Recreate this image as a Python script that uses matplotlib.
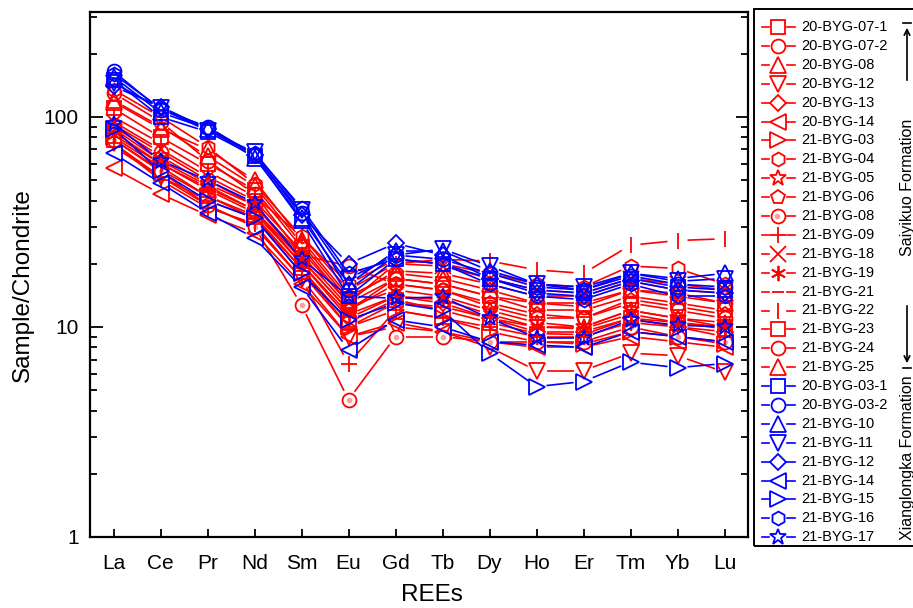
"""
Diagrama REE normalizado a condrita: Saiyikuo (rojo) vs Xianglongka (azul).
Salida: out.png (913x608)
"""

import numpy as np

import matplotlib
matplotlib.use("Agg")
import matplotlib.pyplot as plt
from matplotlib.lines import Line2D
from matplotlib.patches import Rectangle, FancyArrowPatch

plt.rcParams["font.family"] = ["Liberation Sans", "DejaVu Sans"]

REES = ["La", "Ce", "Pr", "Nd", "Sm", "Eu", "Gd", "Tb", "Dy", "Ho", "Er", "Tm", "Yb", "Lu"]

# Saiyikuo Formation
NOMBRES_SAI = ["20-BYG-07-1", "20-BYG-07-2", "20-BYG-08", "20-BYG-12", "20-BYG-13",
               "20-BYG-14", "21-BYG-03", "21-BYG-04", "21-BYG-05", "21-BYG-06",
               "21-BYG-08", "21-BYG-09", "21-BYG-18", "21-BYG-19", "21-BYG-21",
               "21-BYG-22", "21-BYG-23", "21-BYG-24", "21-BYG-25"]
SAI = [
    [110, 80, 60, 45, 24, 13, 17, 16, 14, 12, 12, 14, 13, 12],
    [130, 95, 62, 43, 22, 19.5, 16, 15, 12.5, 11, 11, 13, 12, 11],
    [118, 88, 70, 50, 26, 14, 18, 17, 15, 13, 13, 15, 14, 13],
    [75, 52, 38, 30, 17, 9, 10, 9.5, 8, 6.2, 6.2, 7.5, 7.3, 6.1],
    [85, 60, 45, 35, 20, 11, 14, 13, 11, 9.5, 9.5, 11, 10, 9.5],
    [57, 43, 34, 28, 16, 9, 10.5, 9.5, 8.5, 8, 8, 9, 8.5, 8],
    [80, 58, 42, 33, 18, 10, 12, 11, 9.5, 8.5, 8.3, 9.5, 9, 8.3],
    [135, 100, 72, 48, 27, 16, 21, 20, 18, 16, 15.5, 19.5, 19, 16],
    [90, 65, 48, 38, 22, 12.5, 15, 14, 12, 10.5, 10, 12, 11, 10.5],
    [88, 62, 47, 36, 21, 12, 16, 15, 13, 11.5, 11, 13.5, 12.5, 11.5],
    [78, 55, 38, 30, 12.7, 4.5, 9, 9, 8.5, 8.5, 8.5, 10, 9, 8.5],
    [75, 50, 37, 31, 17, 6.7, 12, 11, 10, 9, 9, 10.5, 10, 9],
    [95, 70, 52, 40, 23, 13, 20, 19.5, 17, 15, 14.5, 17, 16, 15],
    [82, 60, 46, 36, 20, 11.5, 14, 13.5, 11.5, 10, 9.8, 11.5, 10.5, 10],
    [72, 52, 40, 33, 19, 10, 13, 12.5, 11, 10, 10, 12, 11, 10],
    [100, 75, 55, 42, 27, 15, 20, 21, 20.6, 18.7, 18, 24.5, 25.8, 26.3],
    [78, 56, 42, 34, 19, 10.5, 13.5, 12, 10.5, 9.3, 9.2, 11, 10.5, 9.8],
    [92, 68, 50, 38, 21, 12, 17, 16, 14, 13, 12.5, 15, 14.5, 13],
    [120, 90, 65, 47, 25, 13.5, 18.5, 18, 16, 14, 14, 16.5, 15, 14.5],
]

# Xianglongka Formation
NOMBRES_XIA = ["20-BYG-03-1", "20-BYG-03-2", "21-BYG-10", "21-BYG-11", "21-BYG-12",
               "21-BYG-14", "21-BYG-15", "21-BYG-16", "21-BYG-17"]
XIA = [
    [150, 100, 85, 65, 32, 14, 21, 20, 17, 15, 14.5, 17, 15.5, 15],
    [165, 108, 90, 66, 35, 15, 22, 21, 18, 15.5, 15, 17.5, 16, 15.5],
    [155, 105, 88, 64, 33, 16, 23, 23, 18.5, 16, 15, 18, 17, 18],
    [145, 110, 86, 68, 36, 17, 22, 23.5, 19.5, 16, 15.5, 18, 16.5, 17],
    [140, 112, 88, 66, 34, 20, 25, 22, 17, 14.5, 14, 16.5, 15, 14.5],
    [67, 48.5, 35, 26.5, 15.5, 7.8, 10.8, 10, 8.5, 8.2, 8, 9.5, 9, 8.5],
    [88, 55, 40, 33, 18, 10.8, 13, 12, 7.5, 5.2, 5.5, 6.8, 6.4, 6.7],
    [160, 110, 88, 67, 37, 18, 21, 20, 16, 14, 13.5, 16, 14, 14],
    [93, 62, 50, 39, 21, 14, 13.7, 13.9, 11, 8.9, 8.9, 10.8, 10.2, 10],
]

ROJO = "#ff0000"
AZUL = "#0000ff"
AST = (6, 2, 0)
MARC_SAI = ["s", "o", "^", "v", "D", "<", ">", "h", "*", "p",
            "bola", "+", "x", AST, "_", "|", "s", "o", "^"]
MARC_XIA = ["s", "o", "^", "v", "D", "<", ">", "h", "*"]

W, H = 913, 608


def tam(m):
    if m == "D":
        return 8.5
    if m == "*":
        return 12
    if m == "_":
        return 8
    if m in ("+", "x", "|", AST):
        return 11
    if m in ("^", "v", "<", ">"):
        return 11
    return 10


def marcador(ax, x, y, m, color):
    if m == "bola":
        ax.plot(x, y, ls="none", marker="o", ms=tam("o"), mfc="white", mec=color, mew=1.3)
        ax.plot(x, y, ls="none", marker="o", ms=4, mfc="#f6a0a0", mec="none")
    else:
        ax.plot(x, y, ls="none", marker=m, ms=tam(m), mfc="none", mec=color, mew=1.3)


def linea_con_huecos(ax, x, y, color, gap=10.0):
    # estilo Origin: la linea se corta antes de llegar a cada simbolo
    pts = ax.transData.transform(np.column_stack([x, y]))
    inv = ax.transData.inverted()
    for p0, p1 in zip(pts[:-1], pts[1:]):
        d = p1 - p0
        L = np.hypot(*d)
        if L <= 2 * gap:
            continue
        u = d / L
        a = inv.transform(np.array([p0 + u * gap, p1 - u * gap]))
        ax.plot(a[:, 0], a[:, 1], color=color, lw=1.2, solid_capstyle="butt")


fig = plt.figure(figsize=(W / 100, H / 100), dpi=100)
ax = fig.add_axes([90 / W, 1 - 537 / H, (748 - 90) / W, (537 - 12) / H])
ax.set_yscale("log")
ax.set_xlim(0.5, 14.5)
ax.set_ylim(1, 316)

x = np.arange(1, len(REES) + 1)
grupos = [(SAI, MARC_SAI, ROJO), (XIA, MARC_XIA, AZUL)]
for datos, marcas, col in grupos:
    for vals, m in zip(datos, marcas):
        linea_con_huecos(ax, x, np.array(vals, float), col)
        marcador(ax, x, vals, m, col)
ax.set_xlim(0.5, 14.5)
ax.set_ylim(1, 316)

ax.set_xticks(x)
ax.set_xticklabels(REES)
ax.set_yticks([1, 10, 100])
ax.set_yticklabels(["1", "10", "100"])
ax.tick_params(which="both", direction="in", top=False, right=True, labelsize=15, width=1.3)
ax.tick_params(which="major", length=9)
ax.tick_params(which="minor", length=5)
ax.tick_params(axis="x", which="major", length=6, pad=12)
ax.tick_params(axis="y", which="major", pad=8)
for s in ax.spines.values():
    s.set_linewidth(1.6)
ax.set_ylabel("Sample/Chondrite", fontsize=17.5)
ax.set_xlabel("REEs", fontsize=17.5)
ax.yaxis.set_label_coords(-0.085, 0.48)
ax.xaxis.set_label_coords(0.52, -0.09)

# leyenda dibujada a mano (huecos entre linea y simbolo, como en Origin)
tf = fig.transFigure
fx = lambda px: px / W
fy = lambda py: 1 - py / H
fig.patches.append(Rectangle((fx(754), fy(546)), fx(930) - fx(754), fy(9) - fy(546),
                             transform=tf, fill=False, ec="black", lw=1.4))
entradas = [(n, m, ROJO) for n, m in zip(NOMBRES_SAI, MARC_SAI)] + \
           [(n, m, AZUL) for n, m in zip(NOMBRES_XIA, MARC_XIA)]
for i, (nombre, m, col) in enumerate(entradas):
    yy = fy(27 + i * 18.9)
    for a, b in [(762, 769), (787, 795)]:
        fig.lines.append(Line2D([fx(a), fx(b)], [yy, yy], transform=tf, color=col, lw=1.2))
    if m == "bola":
        fig.lines.append(Line2D([fx(778)], [yy], transform=tf, ls="none", marker="o",
                                ms=tam("o"), mfc="white", mec=col, mew=1.3))
        fig.lines.append(Line2D([fx(777)], [yy], transform=tf, ls="none", marker="o",
                                ms=4, mfc="#f6a0a0", mec="none"))
    else:
        fig.lines.append(Line2D([fx(778)], [yy], transform=tf, ls="none", marker=m,
                                ms=tam(m), mfc="none", mec=col, mew=1.3))
    fig.text(fx(801), yy, nombre, fontsize=10.5, va="center", ha="left")

# corchetes de formacion
xb = fx(907)
fig.lines.append(Line2D([fx(903), fx(911)], [fy(23), fy(23)], transform=tf, color="black", lw=1.2))
fig.lines.append(Line2D([fx(903), fx(911)], [fy(368), fy(368)], transform=tf, color="black", lw=1.2))
fig.patches.append(FancyArrowPatch((xb, fy(83)), (xb, fy(25)), transform=tf,
                                   arrowstyle="->", mutation_scale=10, lw=1.2))
fig.patches.append(FancyArrowPatch((xb, fy(303)), (xb, fy(366)), transform=tf,
                                   arrowstyle="->", mutation_scale=10, lw=1.2))
fig.text(xb, fy(187), "Saiyikuo Formation", rotation=90, fontsize=11.5, ha="center", va="center")
fig.text(xb, fy(458), "Xianglongka Formation", rotation=90, fontsize=11.5, ha="center", va="center")

fig.savefig("out.png", dpi=100)
